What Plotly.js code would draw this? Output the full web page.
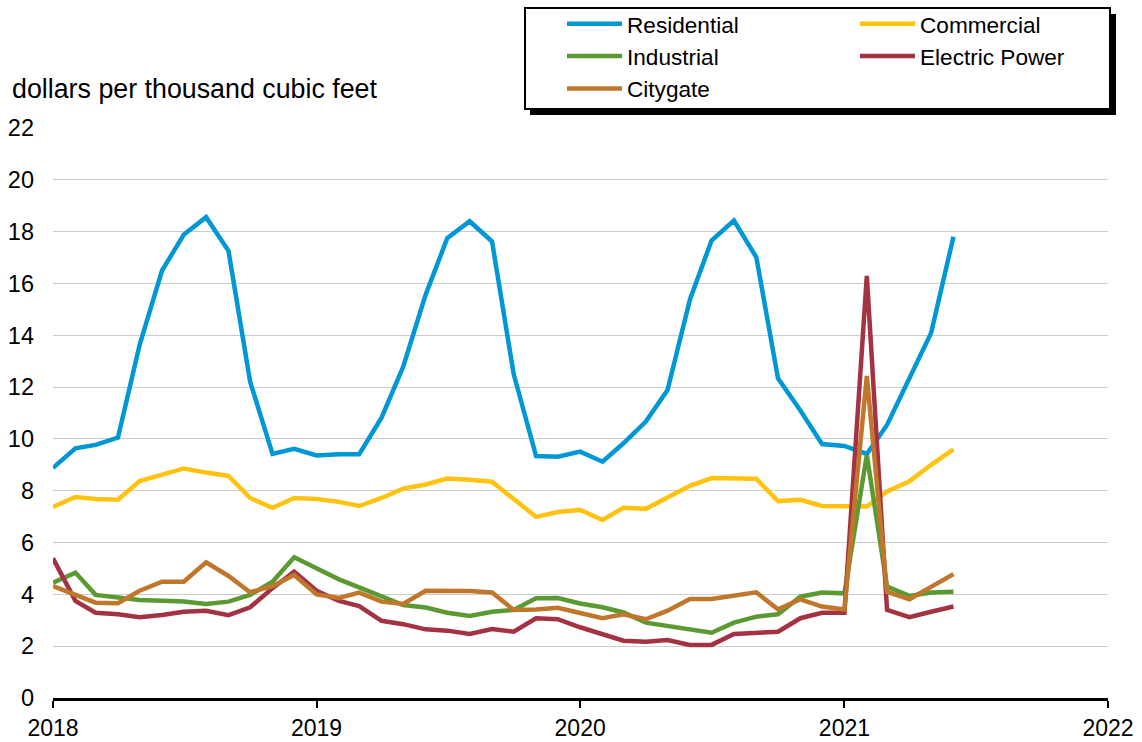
<!DOCTYPE html>
<html>
<head>
<meta charset="utf-8">
<script src="https://cdn.plot.ly/plotly-3.0.1.min.js"></script>
<style>
  html, body { margin: 0; padding: 0; background: #ffffff; }
  #chart { width: 1142px; height: 742px; }
</style>
</head>
<body>
<div id="chart"></div>
<script>
// ---- data ----
const months = [
  '2018-01','2018-02','2018-03','2018-04','2018-05','2018-06','2018-07','2018-08','2018-09','2018-10','2018-11','2018-12',
  '2019-01','2019-02','2019-03','2019-04','2019-05','2019-06','2019-07','2019-08','2019-09','2019-10','2019-11','2019-12',
  '2020-01','2020-02','2020-03','2020-04','2020-05','2020-06','2020-07','2020-08','2020-09','2020-10','2020-11','2020-12',
  '2021-01','2021-02','2021-03','2021-04','2021-05','2021-06'
];
const residential = [8.88, 9.64, 9.77, 10.05, 13.63, 16.5, 17.88, 18.56, 17.26, 12.21, 9.42, 9.62,
  9.36, 9.41, 9.41, 10.82, 12.79, 15.56, 17.75, 18.4, 17.62, 12.5, 9.34, 9.31,
  9.51, 9.12, 9.83, 10.67, 11.89, 15.37, 17.66, 18.43, 17.01, 12.34, 11.1, 9.8,
  9.73, 9.42, 10.54, 12.3, 14.09, 17.8];
const commercial = [7.37, 7.76, 7.68, 7.65, 8.37, 8.6, 8.86, 8.7, 8.57, 7.72, 7.34, 7.72,
  7.68, 7.57, 7.41, 7.72, 8.08, 8.24, 8.47, 8.42, 8.35, 7.68, 6.99, 7.18,
  7.26, 6.87, 7.34, 7.3, 7.72, 8.19, 8.49, 8.49, 8.46, 7.6, 7.65, 7.41,
  7.41, 7.39, 7.97, 8.36, 9.0, 9.6];
const industrial = [4.45, 4.84, 3.98, 3.86, 3.78, 3.75, 3.72, 3.63, 3.72, 3.98, 4.49, 5.43,
  4.99, 4.58, 4.27, 3.94, 3.59, 3.49, 3.29, 3.17, 3.33, 3.4, 3.85, 3.86,
  3.65, 3.5, 3.3, 2.91, 2.78, 2.65, 2.52, 2.91, 3.14, 3.23, 3.91, 4.07,
  4.04, 9.38, 4.3, 3.94, 4.07, 4.1];
const electricPower = [5.39, 3.75, 3.29, 3.23, 3.12, 3.2, 3.33, 3.37, 3.2, 3.5, 4.24, 4.88,
  4.14, 3.75, 3.55, 2.98, 2.85, 2.65, 2.6, 2.47, 2.66, 2.56, 3.08, 3.04,
  2.73, 2.47, 2.21, 2.17, 2.24, 2.05, 2.05, 2.47, 2.5, 2.56, 3.08, 3.29,
  3.29, 16.29, 3.4, 3.12, 3.33, 3.53];
const citygate = [4.32, 3.98, 3.68, 3.66, 4.14, 4.49, 4.49, 5.24, 4.71, 4.08, 4.32, 4.75,
  4.0, 3.86, 4.07, 3.72, 3.63, 4.14, 4.14, 4.13, 4.07, 3.4, 3.42, 3.48,
  3.28, 3.08, 3.23, 3.04, 3.37, 3.82, 3.82, 3.95, 4.08, 3.42, 3.81, 3.53,
  3.42, 12.43, 4.1, 3.81, 4.3, 4.78];
const yTickVals = [0, 2, 4, 6, 8, 10, 12, 14, 16, 18, 20, 22];
const xTickVals = ['2018-01-01', '2019-01-01', '2020-01-01', '2021-01-01', '2022-01-01'];
const xTickText = ['2018', '2019', '2020', '2021', '2022'];
const unitLabel = 'dollars per thousand cubic feet';

// ---- series styling ----
const FONT = 'Arial, "Liberation Sans", sans-serif';
const series = [
  {name: 'Residential', y: residential, color: '#0097d6', legend: 'legend'},
  {name: 'Commercial', y: commercial, color: '#ffc20e', legend: 'legend2'},
  {name: 'Industrial', y: industrial, color: '#5b9a33', legend: 'legend'},
  {name: 'Electric Power', y: electricPower, color: '#a33242', legend: 'legend2'},
  {name: 'Citygate', y: citygate, color: '#c0772c', legend: 'legend'}
];

const traces = series.map((s, i) => ({
  type: 'scatter',
  mode: 'lines',
  name: s.name,
  x: months,
  y: s.y,
  legend: s.legend,
  legendgroup: 'g' + i,
  line: {color: s.color, width: 4.5},
  hoverinfo: 'x+y+name'
}));

// plot-area pixel geometry helpers
const W = 1142, H = 742;
const M = {l: 53, r: 34, t: 128, b: 44, autoexpand: false};
const pw = W - M.l - M.r, ph = H - M.t - M.b;
const px = v => (v - M.l) / pw;
const py = v => (H - M.b - v) / ph;

const legendCommon = {
  orientation: 'v',
  xanchor: 'left',
  yanchor: 'top',
  bgcolor: 'rgba(0,0,0,0)',
  borderwidth: 0,
  font: {family: FONT, size: 22.6, color: '#000000'},
  itemwidth: 55,
  tracegroupgap: 0,
  traceorder: 'grouped',
  itemclick: false,
  itemdoubleclick: false
};

const layout = {
  width: W,
  height: H,
  margin: M,
  paper_bgcolor: '#ffffff',
  plot_bgcolor: '#ffffff',
  font: {family: FONT, size: 23, color: '#000000'},
  showlegend: true,
  legend: Object.assign({}, legendCommon, {x: px(562), y: py(2.5)}),
  legend2: Object.assign({}, legendCommon, {x: px(855), y: py(2.5)}),
  xaxis: {
    type: 'date',
    range: ['2018-01-01', '2022-01-01'],
    tickvals: xTickVals,
    ticktext: xTickText,
    showgrid: false,
    zeroline: false,
    showline: true,
    linecolor: '#000000',
    linewidth: 3,
    ticks: 'outside',
    ticklen: 7,
    tickwidth: 2,
    tickcolor: '#000000',
    ticklabelstandoff: 0,
    tickfont: {family: FONT, size: 23, color: '#000000'},
    fixedrange: true
  },
  yaxis: {
    range: [0, 22],
    tickvals: yTickVals,
    showgrid: true,
    gridcolor: '#cccccc',
    gridwidth: 1,
    zeroline: false,
    showline: false,
    ticks: '',
    ticklabelstandoff: 18,
    tickfont: {family: FONT, size: 23.5, color: '#000000'},
    fixedrange: true
  },
  annotations: [{
    xref: 'paper', yref: 'paper',
    x: px(10), y: py(89),
    xanchor: 'left', yanchor: 'middle',
    showarrow: false,
    text: unitLabel,
    font: {family: FONT, size: 26.8, color: '#000000'}
  }],
  shapes: [
    {type: 'rect', xref: 'paper', yref: 'paper', layer: 'below',
     x0: px(530), x1: px(1116), y0: py(115), y1: py(14),
     fillcolor: '#000000', line: {width: 0}},
    {type: 'rect', xref: 'paper', yref: 'paper', layer: 'below',
     x0: px(525), x1: px(1110), y0: py(109), y1: py(8),
     fillcolor: '#ffffff', line: {color: '#000000', width: 2}}
  ]
};

Plotly.newPlot('chart', traces, layout, {displayModeBar: false, responsive: false});
</script>
</body>
</html>
